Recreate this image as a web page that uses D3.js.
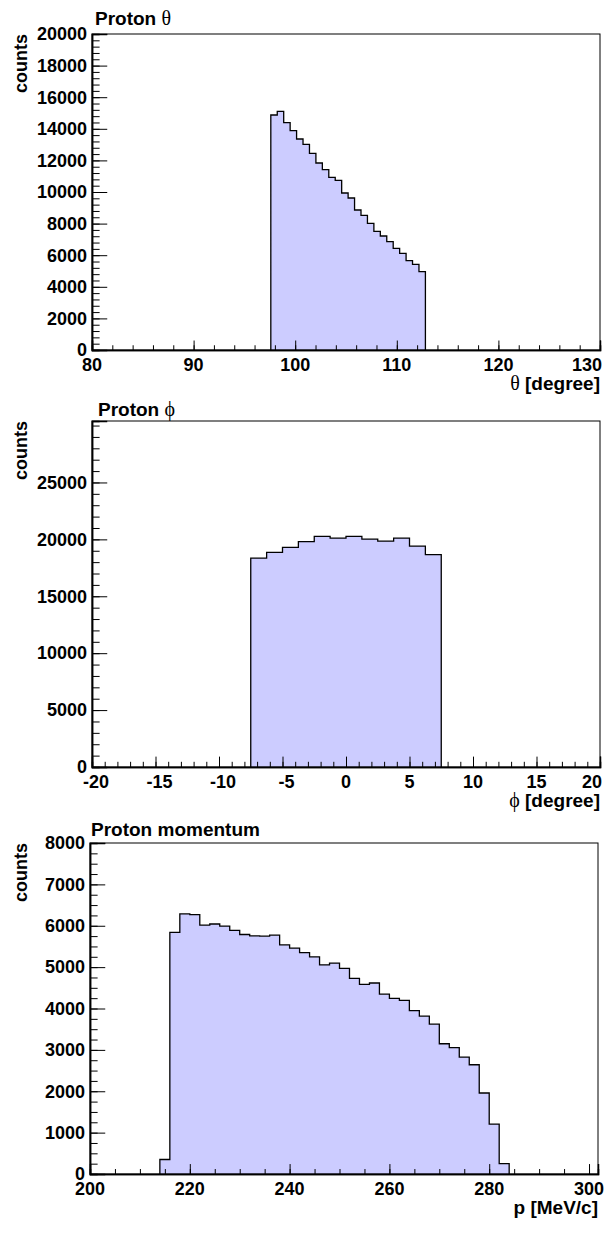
<!DOCTYPE html>
<html>
<head>
<meta charset="utf-8">
<script src="https://cdn.jsdelivr.net/npm/d3@7"></script>
<style>
  html, body { margin: 0; padding: 0; background: #fff; }
  svg text { font-family: "Liberation Sans", Arial, Helvetica, sans-serif; font-weight: bold; fill: #000; }
</style>
</head>
<body>
<svg id="chart" width="611" height="1236"></svg>
<script>
// ---------- Data ----------
// Panel 1: Proton theta (bin lower edge start, bin width, counts)
const thetaBinStart = 97.6;
const thetaBinWidth = 0.634;
const thetaCounts = [14873, 15105, 14388, 13882, 13354, 13017, 12447, 11835, 11413, 10928,
                     10738, 9937, 9620, 8861, 8523, 8017, 7511, 7215, 6856, 6435,
                     6118, 5654, 5422, 4958];
const thetaXTicks = [80, 90, 100, 110, 120, 130];
const thetaYTicks = [0, 2000, 4000, 6000, 8000, 10000, 12000, 14000, 16000, 18000, 20000];

// Panel 2: Proton phi
const phiBinStart = -7.5;
const phiBinWidth = 1.25;
const phiCounts = [18358, 18857, 19297, 19795, 20265, 20118, 20265, 20030, 19854, 20118, 19414, 18651];
const phiXTicks = [-20, -15, -10, -5, 0, 5, 10, 15, 20];
const phiYTicks = [0, 5000, 10000, 15000, 20000, 25000];

// Panel 3: Proton momentum
const momBinStart = 214;
const momBinWidth = 2;
const momCounts = [350, 5840, 6287, 6270, 6017, 6042, 5992, 5890, 5789, 5755,
                   5747, 5772, 5536, 5460, 5350, 5249, 5055, 5097, 4970, 4726,
                   4585, 4616, 4346, 4245, 4194, 3949, 3814, 3620, 3148, 3055,
                   2827, 2641, 1958, 1207, 253];
const momXTicks = [200, 220, 240, 260, 280, 300];
const momYTicks = [0, 1000, 2000, 3000, 4000, 5000, 6000, 7000, 8000];

const panels = [
  { title: "Proton ", sym: "θ", xSym: true, xUnit: " [degree]", xTitle: "",
    xDomain: [80, 130], yDomain: [0, 20000], xMinorStep: 2, yMinorStep: 400, lastEnd: true,
    binStart: thetaBinStart, binWidth: thetaBinWidth, counts: thetaCounts,
    xTicks: thetaXTicks, yTicks: thetaYTicks, titleDx: 3, titleDy: -9,
    box: { L: 92, R: 600, T: 34, B: 350 } },
  { title: "Proton ", sym: "ϕ", xSym: true, xUnit: " [degree]", xTitle: "",
    xDomain: [-20, 20], yDomain: [0, 30400], xMinorStep: 1, yMinorStep: 1000, lastEnd: true,
    binStart: phiBinStart, binWidth: phiBinWidth, counts: phiCounts,
    xTicks: phiXTicks, yTicks: phiYTicks, titleDx: 6, titleDy: -5,
    box: { L: 92, R: 600, T: 421, B: 767 } },
  { title: "Proton momentum", sym: "", xSym: false, xUnit: "", xTitle: "p [MeV/c]",
    xDomain: [200, 301.8], yDomain: [0, 8000], xMinorStep: 5, yMinorStep: 250, lastEnd: false,
    binStart: momBinStart, binWidth: momBinWidth, counts: momCounts,
    xTicks: momXTicks, yTicks: momYTicks, titleDx: 1, titleDy: -7,
    box: { L: 90, R: 598, T: 843, B: 1174 } }
];

const svg = d3.select("#chart");

function range(a, b, step) {
  const out = [];
  const n = Math.floor((b - a) / step + 1e-9);
  for (let i = 0; i <= n; i++) out.push(+(a + i * step).toFixed(6));
  return out;
}

panels.forEach(p => {
  const { L, R, T, B } = p.box;
  const x = d3.scaleLinear().domain(p.xDomain).range([L, R]);
  const y = d3.scaleLinear().domain(p.yDomain).range([B, T]);
  const g = svg.append("g");

  // histogram bins
  const bins = p.counts.map((c, i) => ({ x0: p.binStart + i * p.binWidth, x1: p.binStart + (i + 1) * p.binWidth, v: c }));
  const stepPts = bins.map(b => [b.x0, b.v]);
  const lastBin = bins[bins.length - 1];
  stepPts.push([lastBin.x1, lastBin.v]);

  const area = d3.area().curve(d3.curveStepAfter)
    .x(d => x(d[0])).y0(y(0)).y1(d => y(d[1]));
  g.append("path").datum(stepPts).attr("d", area).attr("fill", "#ccccff");

  const line = d3.line().curve(d3.curveStepAfter).x(d => x(d[0])).y(d => y(d[1]));
  const olPts = [[bins[0].x0, 0]].concat(stepPts);
  g.append("path")
    .attr("d", line(olPts) + "L" + x(lastBin.x1) + "," + y(0))
    .attr("fill", "none").attr("stroke", "#000").attr("stroke-width", 1.3)
    .attr("stroke-linejoin", "miter");

  // Frame
  g.append("rect").attr("x", L).attr("y", T).attr("width", R - L).attr("height", B - T)
    .attr("fill", "none").attr("stroke", "#000").attr("stroke-width", 1);

  const xMajLen = 0.03 * (B - T), yMajLen = 0.03 * (R - L);
  // x ticks
  const xMinor = range(p.xDomain[0], p.xDomain[1], p.xMinorStep);
  const xAxisMinor = d3.axisBottom(x).tickValues(xMinor).tickSize(-xMajLen / 2).tickFormat("");
  const xAxisMajor = d3.axisBottom(x).tickValues(p.xTicks).tickSize(-xMajLen).tickFormat("");
  [xAxisMinor, xAxisMajor].forEach(ax => {
    const a = g.append("g").attr("transform", `translate(0,${B})`).call(ax);
    a.select(".domain").attr("stroke", "#000").attr("stroke-width", 1.5);
    a.selectAll(".tick line").attr("stroke", "#000").attr("stroke-width", 1);
  });
  // y ticks
  const yMinor = range(p.yDomain[0], p.yDomain[1], p.yMinorStep);
  const yAxisMinor = d3.axisLeft(y).tickValues(yMinor).tickSize(-yMajLen / 2).tickFormat("");
  const yAxisMajor = d3.axisLeft(y).tickValues(p.yTicks).tickSize(-yMajLen).tickFormat("");
  [yAxisMinor, yAxisMajor].forEach(ax => {
    const a = g.append("g").attr("transform", `translate(${L},0)`).call(ax);
    a.select(".domain").attr("stroke", "#000").attr("stroke-width", 1.5);
    a.selectAll(".tick line").attr("stroke", "#000").attr("stroke-width", 1);
  });

  // x tick labels
  p.xTicks.forEach((v, i) => {
    const last = p.lastEnd && i === p.xTicks.length - 1;
    g.append("text")
      .attr("x", last ? R + 2 : x(v) + (v < 0 ? 4 : 0))
      .attr("y", B + 21)
      .attr("text-anchor", last ? "end" : "middle")
      .attr("font-size", 18)
      .text(v);
  });
  // y tick labels
  p.yTicks.forEach(v => {
    g.append("text")
      .attr("x", L - 5)
      .attr("y", y(v))
      .attr("dy", "0.35em")
      .attr("text-anchor", "end")
      .attr("font-size", 18)
      .text(v);
  });

  // Title
  const t = g.append("text").attr("x", L + p.titleDx).attr("y", T + p.titleDy).attr("font-size", 19);
  t.append("tspan").text(p.title);
  if (p.sym) t.append("tspan").attr("font-family", "'Liberation Serif', 'DejaVu Serif', serif")
    .attr("font-weight", "normal").attr("font-size", 20).text(p.sym);

  // x axis title
  const xt = g.append("text").attr("x", R).attr("y", B + 40).attr("text-anchor", "end").attr("font-size", 19);
  if (p.xSym) {
    xt.append("tspan").attr("font-family", "'Liberation Serif', 'DejaVu Serif', serif")
      .attr("font-weight", "normal").attr("font-size", 20).text(p.sym);
    xt.append("tspan").text(p.xUnit);
  } else {
    xt.text(p.xTitle);
  }

  // y axis title
  g.append("text")
    .attr("transform", `translate(27,${T}) rotate(-90)`)
    .attr("text-anchor", "end")
    .attr("font-size", 18)
    .text("counts");
});
</script>
</body>
</html>
